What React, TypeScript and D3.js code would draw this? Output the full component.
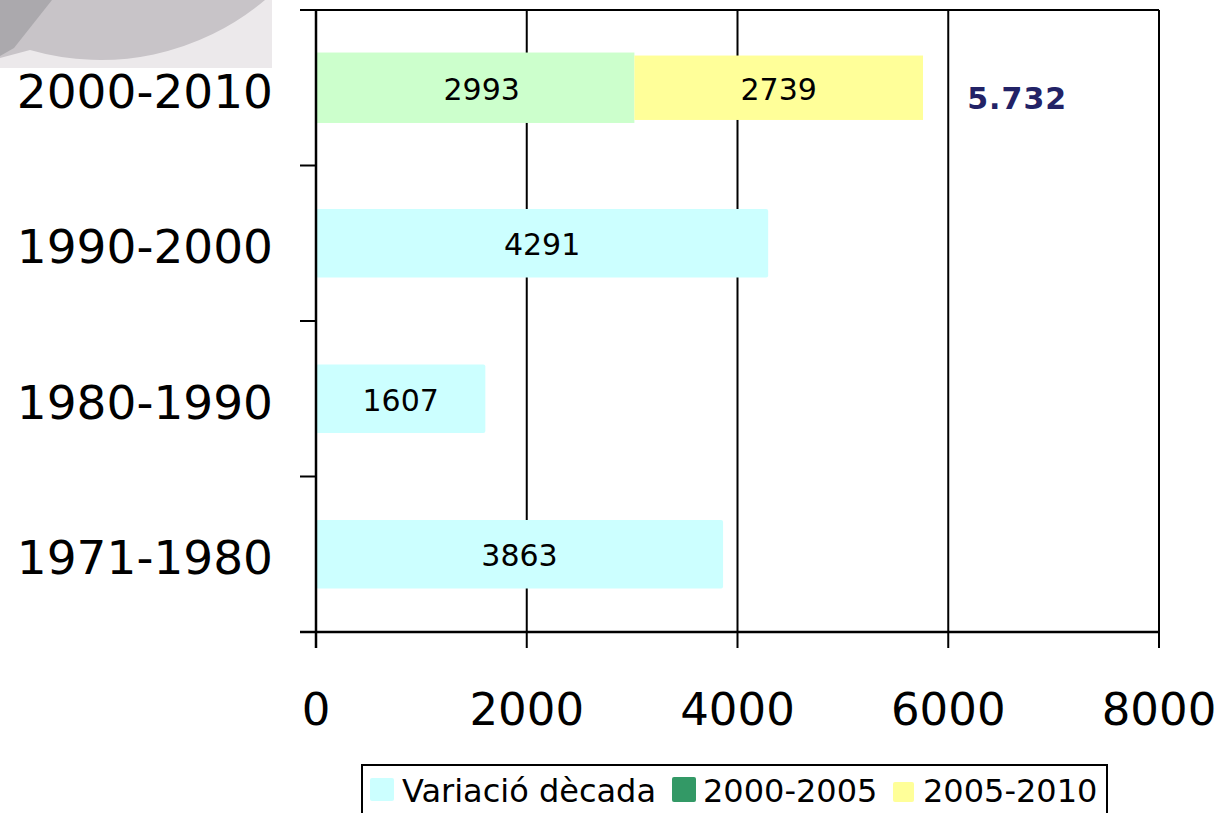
import * as React from "react"
import * as d3 from "d3"

// decades, top row is drawn first
const categories = ["2000-2010", "1990-2000", "1980-1990", "1971-1980"]
const decadeVariation = [0, 4291, 1607, 3863]
const firstHalf = [2993, 0, 0, 0]
const secondHalf = [2739, 0, 0, 0]
const xTicks = [0, 2000, 4000, 6000, 8000]
const legendItems = ["Variació dècada", "2000-2005", "2005-2010"]
const legendColors = ["#ccffff", "#339966", "#ffff99"]

const W = 1225
const H = 813
const margin = { top: 10, right: 66, bottom: 181, left: 316 }

export default function App() {
  const x = d3
    .scaleLinear()
    .domain([0, 8000])
    .range([margin.left, W - margin.right])

  const y = d3
    .scaleBand<string>()
    .domain(categories)
    .range([margin.top, H - margin.bottom])
    .paddingInner(0.56)
    .paddingOuter(0.28)

  const step = y.step()
  const bandEdges = d3.range(categories.length + 1).map((i) => margin.top + i * step)
  const bottom = H - margin.bottom
  const total = firstHalf[0] + secondHalf[0]
  const totalLabel = d3.format(",")(total).replace(",", ".")

  const labelFont = "'DejaVu Sans', Verdana, sans-serif"

  // legend layout: swatch box, text x
  const legendSwatch = [
    { x: 370, y: 778, w: 24, h: 23 },
    { x: 672, y: 777, w: 24, h: 25 },
    { x: 893, y: 782, w: 21, h: 20 },
  ]
  const legendTextX = [402, 703, 923]

  return (
    <svg
      width={W}
      height={H}
      viewBox={`0 0 ${W} ${H}`}
      style={{ position: "absolute", left: 0, top: 0, background: "#fff" }}
    >
      {/* background decoration, top left */}
      <g>
        <rect x={0} y={0} width={272} height={68} fill="#ece9eb" />
        <path d="M0,0 L265,0 A255,255 0 0 1 30,50 L0,58 Z" fill="#c8c4c8" />
        <path d="M0,0 L52,0 L14,48 L0,56 Z" fill="#aba9ad" />
      </g>

      {/* vertical gridlines */}
      {xTicks.map((t) => (
        <line
          key={`g${t}`}
          x1={x(t)}
          x2={x(t)}
          y1={margin.top}
          y2={bottom + 16}
          stroke="#000"
          strokeWidth={2}
        />
      ))}
      {/* category ticks and frame lines */}
      {bandEdges.map((v, i) => (
        <line
          key={`t${i}`}
          x1={x(0) - 16}
          x2={i === 0 || i === categories.length ? x(8000) : x(0)}
          y1={v}
          y2={v}
          stroke="#000"
          strokeWidth={2}
        />
      ))}

      {/* bars */}
      {categories.map((c, i) => {
        const yy = y(c)!
        const bw = y.bandwidth()
        const cy = yy + bw / 2
        return (
          <g key={c}>
            {decadeVariation[i] > 0 && (
              <>
                <rect
                  x={x(0)}
                  y={yy}
                  width={x(decadeVariation[i]) - x(0)}
                  height={bw}
                  rx={2}
                  fill="#ccffff"
                />
                <text
                  x={(x(0) + x(decadeVariation[i])) / 2}
                  y={cy + 12}
                  textAnchor="middle"
                  fontFamily={labelFont}
                  fontSize={30}
                  fill="#000"
                >
                  {decadeVariation[i]}
                </text>
              </>
            )}
            {firstHalf[i] > 0 && (
              <>
                <rect
                  x={x(0)}
                  y={yy - 1}
                  width={x(firstHalf[i]) - x(0) + 3}
                  height={bw + 2}
                  fill="#ccffcc"
                />
                <rect
                  x={x(firstHalf[i]) + 3}
                  y={yy + 2}
                  width={x(firstHalf[i] + secondHalf[i]) - x(firstHalf[i])}
                  height={bw - 4}
                  fill="#ffff99"
                />
                <text
                  x={(x(0) + x(firstHalf[i])) / 2 + 8}
                  y={cy + 12}
                  textAnchor="middle"
                  fontFamily={labelFont}
                  fontSize={30}
                  fill="#000"
                >
                  {firstHalf[i]}
                </text>
                <text
                  x={(x(firstHalf[i]) + x(firstHalf[i] + secondHalf[i])) / 2 + 3}
                  y={cy + 12}
                  textAnchor="middle"
                  fontFamily={labelFont}
                  fontSize={30}
                  fill="#000"
                >
                  {secondHalf[i]}
                </text>
                <text
                  x={x(6000) + 19}
                  y={cy + 21}
                  fontFamily={labelFont}
                  fontWeight="bold"
                  fontSize={30}
                  letterSpacing={1}
                  fill="#222266"
                >
                  {totalLabel}
                </text>
              </>
            )}
          </g>
        )
      })}

      {/* y axis line + x axis line */}
      <line x1={x(0)} x2={x(0)} y1={margin.top} y2={bottom + 16} stroke="#000" strokeWidth={2.5} />
      <line x1={x(0) - 16} x2={x(8000)} y1={bottom} y2={bottom} stroke="#000" strokeWidth={2.5} />

      {/* category labels */}
      {categories.map((c) => (
        <text
          key={`l${c}`}
          x={273}
          y={y(c)! + y.bandwidth() / 2 + 20}
          textAnchor="end"
          fontFamily={labelFont}
          fontSize={47}
          fill="#000"
        >
          {c}
        </text>
      ))}

      {/* x tick labels */}
      {xTicks.map((t) => (
        <text
          key={`x${t}`}
          x={x(t)}
          y={725}
          textAnchor="middle"
          fontFamily={labelFont}
          fontSize={45}
          fill="#000"
        >
          {t}
        </text>
      ))}

      {/* legend */}
      <g>
        <rect x={362} y={765} width={745} height={60} fill="#fff" stroke="#000" strokeWidth={2} />
        {legendItems.map((name, i) => {
          const s = legendSwatch[i]
          return (
            <g key={name}>
              <rect x={s.x} y={s.y} width={s.w} height={s.h} rx={2} fill={legendColors[i]} />
              <text
                x={legendTextX[i]}
                y={802}
                fontFamily={labelFont}
                fontSize={32}
                fill="#000"
              >
                {name}
              </text>
            </g>
          )
        })}
      </g>
    </svg>
  )
}
